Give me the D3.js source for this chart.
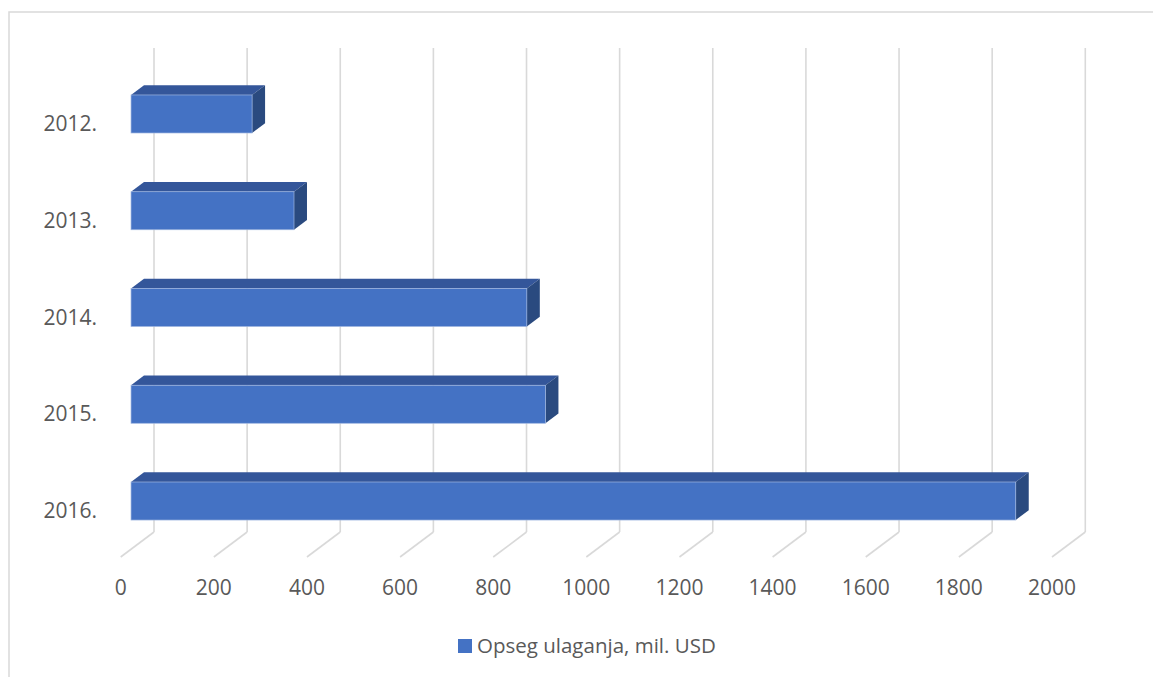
<!DOCTYPE html>
<html>
<head>
<meta charset="utf-8">
<script src="https://cdn.jsdelivr.net/npm/d3@7/dist/d3.min.js"></script>
<style>
  html, body { margin: 0; padding: 0; background: #fff; }
  svg { display: block; }
  text { font-family: "Open Sans", sans-serif; fill: #595959; }
</style>
</head>
<body>
<svg id="chart" width="1153" height="677"></svg>
<script>
// Data
const years = ["2012.", "2013.", "2014.", "2015.", "2016."];
const values = [260, 350, 850, 890, 1900];
const seriesName = "Opseg ulaganja, mil. USD";
const xTicks = [0, 200, 400, 600, 800, 1000, 1200, 1400, 1600, 1800, 2000];

const svg = d3.select("#chart");

// chart area border
svg.append("rect")
  .attr("x", 9).attr("y", 12).attr("width", 1160).attr("height", 690)
  .attr("fill", "none").attr("stroke", "#d9d9d9").attr("stroke-width", 1.5);

// 3D geometry
const frontX0 = 120.7;           // value 0 on front floor edge
const depthDX = 33.3, depthDY = -25;   // full depth offset
const floorY = 557;              // front floor edge y
const wallTop = 48;
const barF0 = 0.31, barF1 = 0.70; // bar depth fractions

const x = d3.scaleLinear().domain([0, 2000]).range([0, 931.3]);

// band scale in the bar-front plane
const y = d3.scaleBand().domain(years)
  .range([65.6, 549.4]).paddingInner(0.607).paddingOuter(0.3035);

const grid = svg.append("g");
xTicks.forEach(v => {
  const bx = frontX0 + depthDX + x(v);
  const by = floorY + depthDY;
  grid.append("line")
    .attr("x1", bx).attr("x2", bx).attr("y1", wallTop).attr("y2", by)
    .attr("stroke", "#d9d9d9").attr("stroke-width", 1.6);
  grid.append("line")
    .attr("x1", bx).attr("y1", by)
    .attr("x2", frontX0 + x(v)).attr("y2", floorY)
    .attr("stroke", "#d9d9d9").attr("stroke-width", 1.6);
});

// tick labels
svg.append("g").selectAll("text").data(xTicks).join("text")
  .attr("x", d => frontX0 + x(d))
  .attr("y", 595)
  .attr("text-anchor", "middle")
  .attr("font-size", "21px")
  .text(d => d);

// bars
const fx0 = frontX0 + depthDX * barF0;   // bar front plane x origin
const ddx = depthDX * (barF1 - barF0);
const ddy = depthDY * (barF1 - barF0);

const bars = svg.append("g");
years.forEach((yr, i) => {
  const x0 = fx0, x1 = fx0 + x(values[i]);
  const t = y(yr), b = y(yr) + y.bandwidth();
  // top face
  bars.append("path")
    .attr("d", `M${x0},${t}L${x0+ddx},${t+ddy}L${x1+ddx},${t+ddy}L${x1},${t}Z`)
    .attr("fill", "#34569a");
  // side face
  bars.append("path")
    .attr("d", `M${x1},${t}L${x1+ddx},${t+ddy}L${x1+ddx},${b+ddy}L${x1},${b}Z`)
    .attr("fill", "#2a4a7f");
  // front face
  bars.append("rect")
    .attr("x", x0).attr("y", t).attr("width", x1 - x0).attr("height", b - t)
    .attr("fill", "#4472c4").attr("stroke", "#9fb6e0").attr("stroke-width", 0.7);
});

// category labels
svg.append("g").selectAll("text").data(years).join("text")
  .attr("x", 97)
  .attr("y", d => y(d) + y.bandwidth() - 2)
  .attr("text-anchor", "end")
  .attr("font-size", "21px")
  .text(d => d);

// legend
svg.append("rect").attr("x", 458).attr("y", 639).attr("width", 14).attr("height", 14)
  .attr("fill", "#4472c4");
svg.append("text").attr("x", 477).attr("y", 653)
  .attr("font-size", "20.5px")
  .text(seriesName);
</script>
</body>
</html>
